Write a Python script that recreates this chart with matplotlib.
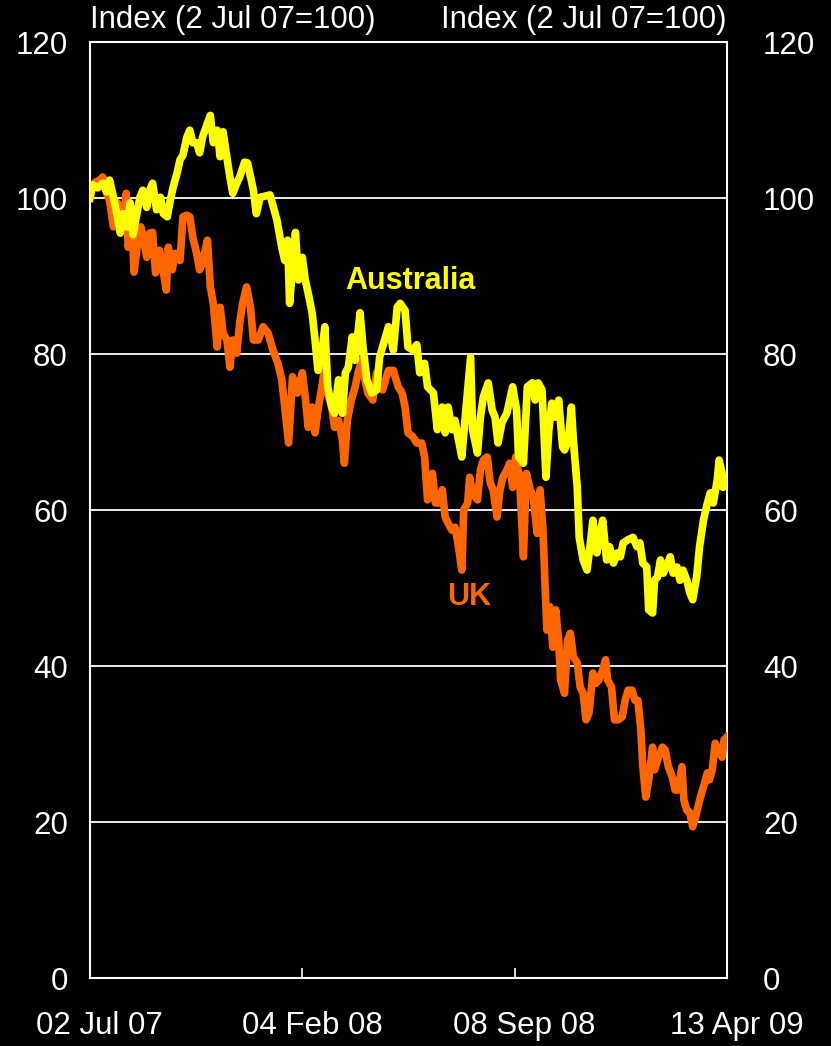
import pandas as pd
import matplotlib
matplotlib.use('Agg')
import matplotlib.pyplot as plt
import matplotlib.dates as mdates
from matplotlib.transforms import ScaledTranslation

# Share price indices, 2 Jul 07 = 100 (days counted from 2 Jul 07)
start_date = pd.Timestamp('2007-07-02')
end_date = pd.Timestamp('2009-04-13')
tick_dates = ['2007-07-02', '2008-02-04', '2008-09-08', '2009-04-13']

aus_days = [0, 3, 8, 13, 17, 20, 24, 28, 31, 34, 38, 41, 44, 48, 51, 54, 58, 61, 64, 68,
            72, 75, 79, 82, 85, 89, 92, 95, 99, 102, 105, 109, 112, 115, 120, 123, 126, 130,
            133, 136, 140, 143, 146, 150, 153, 158, 161, 167, 170, 174, 184, 191, 196, 199,
            202, 204, 210, 213, 217, 220, 223, 227, 230, 233, 237, 240, 243, 247, 250, 254,
            258, 261, 264, 268, 271, 276, 279, 283, 288, 293, 296, 299, 305, 310, 314, 317,
            322, 325, 330, 334, 337, 342, 345, 351, 355, 360, 363, 366, 370, 373, 376, 380,
            383, 386, 389, 391, 396, 399, 402, 407, 411, 414, 417, 421, 426, 429, 432, 436,
            438, 443, 447, 452, 455, 458, 462, 466, 469, 472, 476, 479, 483, 485, 489, 492,
            494, 498, 500, 504, 508, 511, 514, 518, 521, 524, 528, 531, 535, 539, 542, 545,
            550, 555, 559, 562, 565, 569, 571, 575, 577, 580, 583, 586, 589, 593, 596, 600,
            603, 606, 610, 613, 616, 620, 623, 627, 631, 634, 637, 641, 643, 646, 647, 651]
aus_vals = [100, 101.7, 101.3, 101.9, 100.8, 102.3, 100.1, 97.6, 95.5, 98, 96.3, 99.4, 95.3,
            98, 100.1, 101, 98.8, 101, 101.9, 98.5, 100.1, 98, 97.6, 99.7, 101.4, 103.2, 104.9,
            105.5, 107.8, 108.7, 107.1, 107.1, 105.8, 107.8, 109.6, 110.6, 107.1, 108.7, 105.3,
            108.5, 105.1, 102.7, 100.6, 101.9, 102.7, 104.6, 104.5, 101, 98, 100.1, 100.4, 97.2,
            93.7, 92, 94.6, 86.5, 95.6, 89.5, 92.4, 89.5, 87.8, 85.3, 81.8, 77.9, 80.1, 83.5,
            75.8, 73.2, 72.4, 76.7, 72.4, 77.6, 78.3, 82.2, 79.2, 85.3, 80.9, 76.7, 75, 75.4,
            79.6, 80.9, 83.5, 80.5, 86, 86.5, 85.6, 80.9, 80.5, 81.2, 77.6, 78.8, 75.8, 75,
            70.3, 73.2, 69.9, 73.2, 70.3, 71.5, 69.4, 66.8, 71.2, 75.4, 79.6, 70.3, 67.3, 71.9,
            74.5, 76.3, 72.8, 71.9, 68.6, 71.2, 72.4, 74.1, 75.8, 72.8, 66.8, 66, 75.8, 76.3,
            74.1, 76.3, 75.4, 64.2, 70.3, 73.7, 71.9, 74.1, 68.1, 67.7, 69, 73.2, 69, 62.9,
            56.5, 53.6, 52.3, 55.3, 58.7, 54.5, 56.5, 58.7, 53.6, 55.3, 53.2, 54.5, 54, 55.8,
            56.2, 56.5, 55.3, 55.8, 53.2, 52.7, 47.2, 46.8, 51, 51.4, 53.6, 51.9, 52.7, 54,
            51.9, 52.7, 51, 52.3, 51, 49.4, 48.5, 51.4, 55.3, 58.7, 60.9, 62.2, 60.9, 63.8,
            66.4, 64.7, 62.9, 63.5]

uk_days = [0, 5, 10, 13, 17, 20, 24, 28, 31, 34, 37, 39, 43, 45, 49, 52, 55, 58, 61, 64, 67,
           71, 74, 78, 80, 84, 87, 92, 95, 99, 102, 105, 109, 112, 115, 120, 123, 126, 130,
           133, 136, 140, 143, 146, 150, 153, 156, 160, 164, 167, 172, 177, 182, 187, 192, 196,
           199, 203, 207, 212, 217, 220, 223, 227, 230, 233, 237, 240, 243, 247, 250, 254, 258,
           260, 263, 267, 271, 274, 278, 281, 284, 289, 293, 296, 299, 305, 310, 315, 319, 322,
           325, 330, 334, 339, 342, 345, 350, 353, 356, 360, 363, 366, 370, 373, 376, 380, 382,
           386, 388, 391, 396, 399, 402, 406, 409, 412, 416, 419, 422, 426, 429, 432, 435, 439,
           443, 446, 450, 453, 457, 460, 463, 465, 467, 470, 473, 476, 479, 481, 485, 488, 491,
           494, 498, 501, 504, 507, 510, 514, 517, 520, 524, 527, 529, 533, 536, 540, 544, 547,
           550, 554, 557, 560, 563, 565, 568, 571, 575, 577, 580, 585, 588, 591, 595, 598, 601,
           605, 607, 610, 613, 616, 620, 623, 627, 631, 633, 636, 639, 642, 646, 648, 651]
uk_vals = [101, 102, 102.3, 102.7, 100.6, 99.7, 96.3, 99.4, 98.5, 96.3, 100.6, 93.7, 96.8,
           90.5, 94.6, 96.3, 94.6, 92.4, 95.5, 95.6, 90.4, 93.3, 91.2, 88.2, 93.7, 90.8, 92.9,
           92, 97.6, 97.8, 97.6, 95, 92.9, 90.8, 91.7, 94.6, 88.6, 86.5, 80.9, 86, 82.7, 81.8,
           78.3, 81.8, 80.1, 84, 86.5, 88.6, 86, 81.8, 81.8, 83.5, 82.7, 80.5, 78.8, 76.7, 73.2,
           68.6, 77.1, 75, 77.6, 74.5, 70.6, 73.2, 69.9, 72.8, 75.8, 78.3, 75, 73.2, 70.6, 71.5,
           69, 66, 71.5, 74.1, 75.8, 77.6, 79.2, 76.7, 75, 74.1, 77.6, 75.8, 75.4, 77.9, 77.9,
           75.8, 75, 73.2, 69.9, 69.4, 68.6, 68.6, 66.8, 61.3, 64.7, 60.9, 60.9, 62.6, 59.1,
           58.3, 57.4, 57.8, 55.8, 52.3, 60, 60.9, 64.2, 62.2, 61.3, 65.1, 66.4, 66.8, 63.5,
           62.6, 59.1, 62.6, 64.2, 65.1, 66, 62.9, 66.8, 64.2, 54, 64.7, 62.6, 61.7, 57, 62.6,
           57.4, 50.6, 44.6, 47.6, 42.4, 47.2, 43.3, 38.2, 36.5, 43.3, 44.2, 41.2, 40.4, 37.3,
           36.5, 33.1, 34, 39.1, 37.8, 38.2, 39.5, 40.8, 38.2, 37.3, 33.1, 33.1, 33.5, 35.6,
           36.9, 36.9, 35.6, 35.6, 31.8, 27.1, 23.2, 25.4, 29.6, 26.7, 27.9, 29.6, 29.2, 27.1,
           25.8, 24.1, 24.1, 27.1, 22.8, 21.5, 21.2, 19.4, 21.2, 22.8, 24.5, 26.3, 25.4, 26.7,
           30.1, 29.2, 28.3, 30.5, 30.9]

yticks = [0, 20, 40, 60, 80, 100, 120]
axis_label = 'Index (2 Jul 07=100)'

aus_dates = start_date + pd.to_timedelta(aus_days, unit='D')
uk_dates = start_date + pd.to_timedelta(uk_days, unit='D')

plt.rcParams['font.family'] = ['Liberation Sans', 'DejaVu Sans']
plt.rcParams['font.size'] = 22.5

fig = plt.figure(figsize=(8.31, 10.46), dpi=100, facecolor='black')
ax = fig.add_axes([0.1083, 0.065, 0.7665, 0.8948], facecolor='black')

# horizontal grid lines
for y in yticks[1:-1]:
    ax.axhline(y, color='white', lw=1.3, zorder=1)

ax.plot(uk_dates, uk_vals, color='#FF6600', lw=5.5, solid_joinstyle='round', zorder=3)
ax.plot(aus_dates, aus_vals, color='#FFFF00', lw=5.5, solid_joinstyle='round', zorder=4)

ax.set_xlim(start_date, end_date)
ax.set_ylim(0, 120)
ax.set_yticks(yticks)
ax.tick_params(axis='y', length=0, colors='white', pad=16,
               labelleft=True, labelright=True)
# right-hand labels sit a bit further from the axis
right_shift = ScaledTranslation(10 / 72, 0, fig.dpi_scale_trans)
for t in ax.yaxis.get_major_ticks():
    t.label2.set_transform(t.label2.get_transform() + right_shift)

ax.set_xticks(pd.to_datetime(tick_dates))
ax.xaxis.set_major_formatter(mdates.DateFormatter('%d %b %y'))
ax.tick_params(axis='x', direction='in', length=7, width=1.2, colors='white', pad=24)
x_shift = ScaledTranslation(7 / 72, 0, fig.dpi_scale_trans)
for t in ax.xaxis.get_major_ticks():
    t.label1.set_transform(t.label1.get_transform() + x_shift)

for sp in ax.spines.values():
    sp.set_color('white')
    sp.set_linewidth(1.5)

ax.annotate(axis_label, xy=(0, 1), xycoords='axes fraction', xytext=(0, 5),
            textcoords='offset points', ha='left', va='bottom', color='white')
ax.annotate(axis_label, xy=(1, 1), xycoords='axes fraction', xytext=(0, 5),
            textcoords='offset points', ha='right', va='bottom', color='white')

ax.text(start_date + pd.Timedelta(days=327), 89.4, 'Australia', color='#FFFF00',
        fontsize=22, fontweight='bold', ha='center', va='center')
ax.text(start_date + pd.Timedelta(days=388), 48.8, 'UK', color='#FF6600',
        fontsize=22, fontweight='bold', ha='center', va='center')

fig.savefig('out.png', dpi=100, facecolor='black')
